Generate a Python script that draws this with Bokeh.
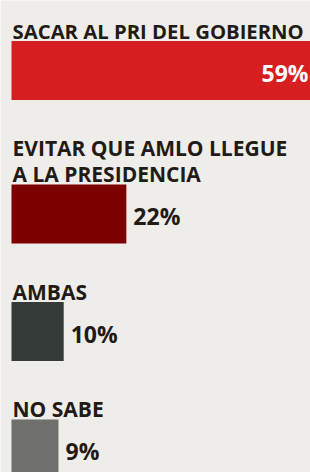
from bokeh.plotting import figure
from bokeh.models import Range1d, ColumnDataSource
from bokeh.core.properties import value
from bokeh.embed import file_html
from bokeh.resources import INLINE

# ---- data ----
titles = [
    ["SACAR AL PRI DEL GOBIERNO"],
    ["EVITAR QUE AMLO LLEGUE", "A LA PRESIDENCIA"],
    ["AMBAS"],
    ["NO SABE"],
]
values = [59, 22, 10, 9]
colors = ["#d71e20", "#7d0000", "#343a37", "#6f6f6c"]

# ---- layout (pixel units) ----
W, H = 310, 472
PX_PER_PCT = 5.22
x_start = -11 / PX_PER_PCT
x_end = x_start + W / PX_PER_PCT
FIRST_BASE = 30
LINE_H = 26
BASE_TO_BAR = 10.5
BAR_H = 59
BAR_TO_BASE = 48
FONT = "Open Sans"
BG = "#efede9"
INK = "#221a14"
TITLE_PX = 21
AVAIL = W - 5  # room for a title line

t_x, t_y, t_text, t_fs = [], [], [], []
b_top, b_bot, b_right, b_color = [], [], [], []
v_x, v_y, v_text, v_color, v_align = [], [], [], [], []

base = FIRST_BASE
for lines, v, c in zip(titles, values, colors):
    for j, ln in enumerate(lines):
        t_x.append(0.2)
        t_y.append(base + LINE_H * j)
        t_text.append(ln)
        # rough width estimate (~0.6 em per char) - shrink long lines to fit
        est = len(ln) * 0.6 * TITLE_PX
        fs = TITLE_PX if est <= AVAIL else TITLE_PX * AVAIL / est
        t_fs.append(f"{fs:.1f}px")
    top = base + LINE_H * (len(lines) - 1) + BASE_TO_BAR
    bot = top + BAR_H
    b_top.append(top); b_bot.append(bot); b_right.append(v); b_color.append(c)
    label = f"{v}%"
    if v > x_end - 8:
        v_x.append(x_end - 2 / PX_PER_PCT); v_align.append("right"); v_color.append("white")
    else:
        v_x.append(v + 7 / PX_PER_PCT); v_align.append("left"); v_color.append(INK)
    v_y.append((top + bot) / 2 + 2)
    v_text.append(label)
    base = bot + BAR_TO_BASE

p = figure(width=W, height=H, output_backend="svg", toolbar_location=None,
           x_range=Range1d(x_start, x_end), y_range=Range1d(H, 0),
           min_border=0, outline_line_color=None,
           background_fill_color=BG, border_fill_color=BG)
p.axis.visible = False
p.grid.visible = False

p.quad(left=0, right="r", top="t", bottom="b", fill_color="c", line_color=None,
       source=ColumnDataSource(dict(r=b_right, t=b_top, b=b_bot, c=b_color)))

p.text(x="x", y="y", text="text", text_font_size="fs",
       source=ColumnDataSource(dict(x=t_x, y=t_y, text=t_text, fs=t_fs)),
       text_font=value(FONT), text_font_style="bold",
       text_color=INK, text_baseline="alphabetic", text_align="left")

p.text(x="x", y="y", text="text", text_color="c", text_align="a",
       source=ColumnDataSource(dict(x=v_x, y=v_y, text=v_text, c=v_color, a=v_align)),
       text_font=value(FONT), text_font_style="bold", text_font_size="23px",
       text_baseline="middle")

open("out.html", "w").write(file_html(p, INLINE))
